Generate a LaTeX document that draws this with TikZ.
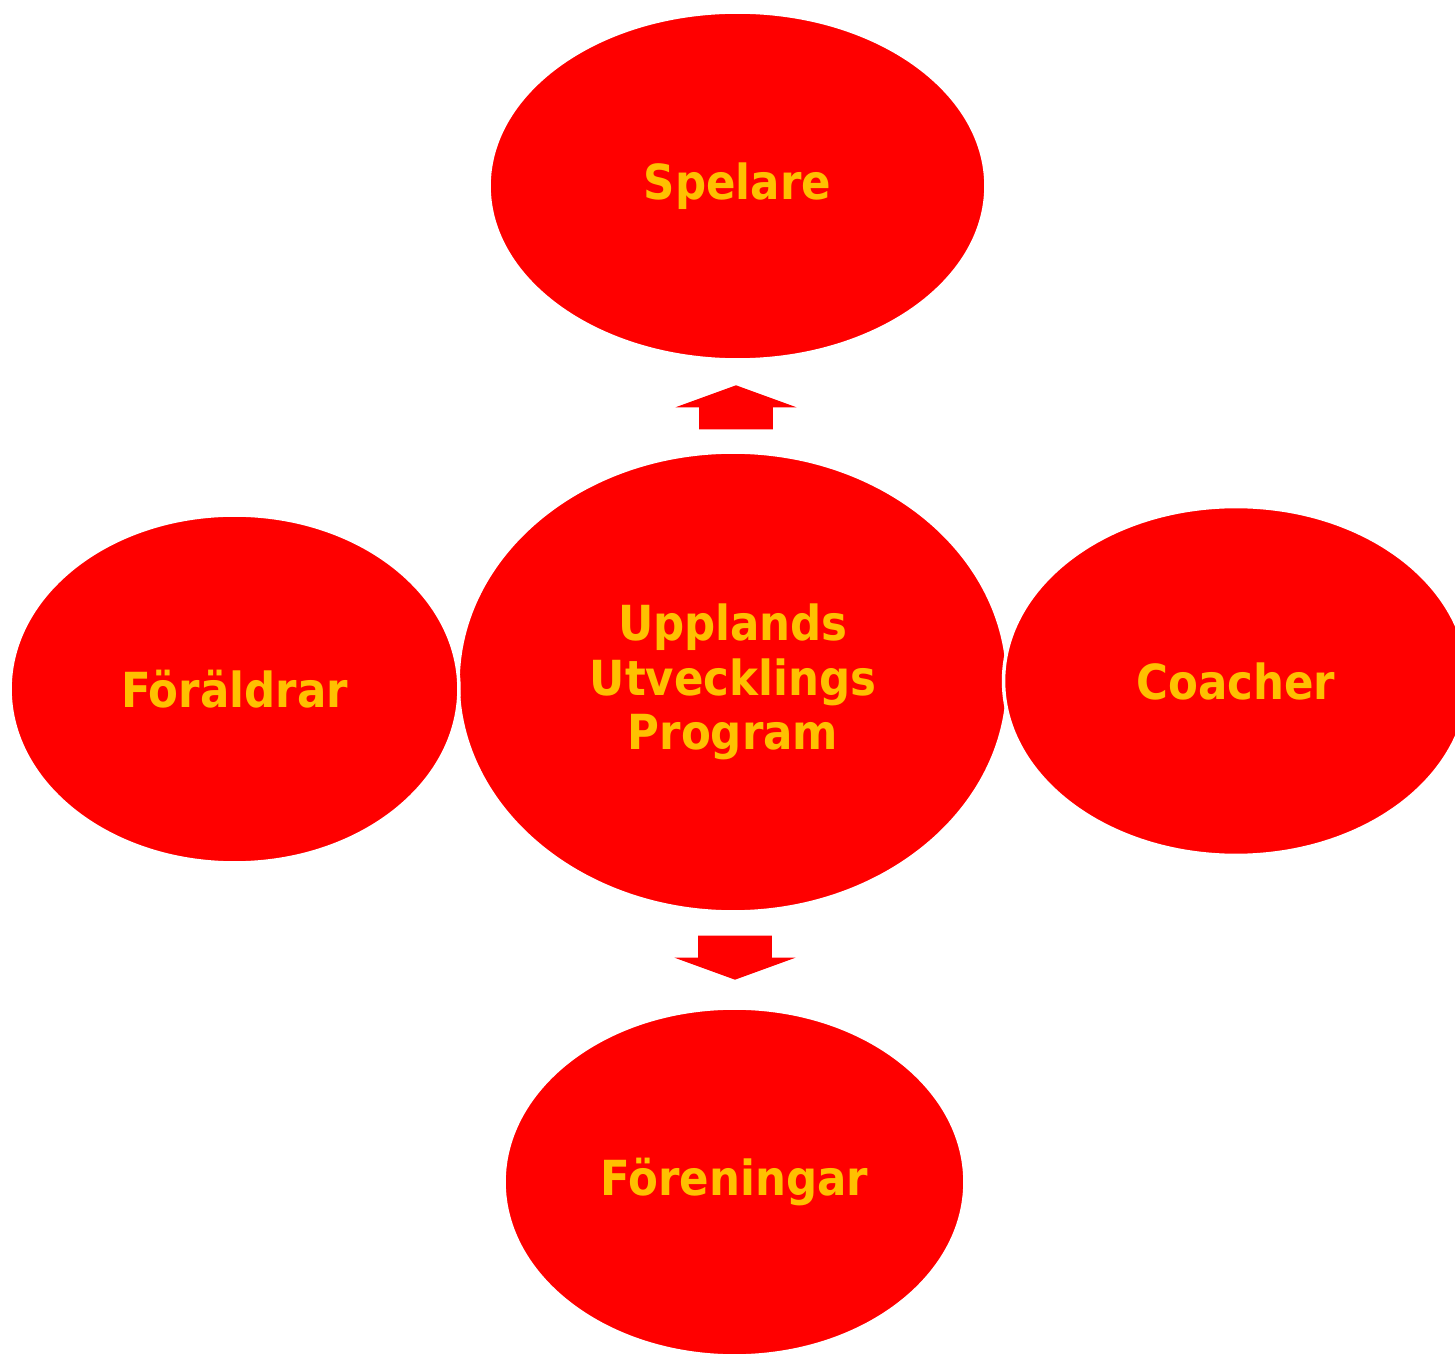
\documentclass[tikz,border=0pt]{standalone}
\usepackage{fontspec}
\setmainfont{DejaVu Sans Condensed}
\usepackage{xcolor}
\usetikzlibrary{shapes.geometric,shapes.arrows}
\definecolor{rubyred}{HTML}{FF0000}
\definecolor{goldtext}{HTML}{FFC000}

\begin{document}
\begin{tikzpicture}[x=0.02cm,y=-0.02cm,font=\bfseries\fontsize{27.5}{31}\selectfont,
  group node/.style={ellipse,fill=rubyred,draw=white,line width=0.07cm,text=goldtext,inner sep=0pt,align=center},
  block arrow/.style={single arrow,fill=rubyred,draw=none,inner xsep=0pt,inner ysep=0.73cm,minimum height=0.88cm,single arrow head extend=0.47cm,single arrow tip angle=140}]
\useasboundingbox (0,0) rectangle (1455,1354);

% Draw ellipses
\node[group node,minimum width=11cm,minimum height=9.2cm] (prog) at (733,682) {Upplands\\Utvecklings\\Program};
\node[group node,minimum width=9.94cm,minimum height=6.96cm] (spel) at (737.5,186) {Spelare};
\node[group node,minimum width=8.98cm,minimum height=6.96cm] (foral) at (234.5,689) {Föräldrar};
\node[group node,minimum width=9.3cm,minimum height=6.98cm] (coach) at (1236,681) {Coacher};
\node[group node,minimum width=9.22cm,minimum height=6.96cm] (foren) at (734.5,1182) {Föreningar};

% Draw arrows
\node[block arrow,rotate=90] (up) at (736,414) {};
\node[block arrow,rotate=-90] (down) at (735,951) {};

\end{tikzpicture}
\end{document}
